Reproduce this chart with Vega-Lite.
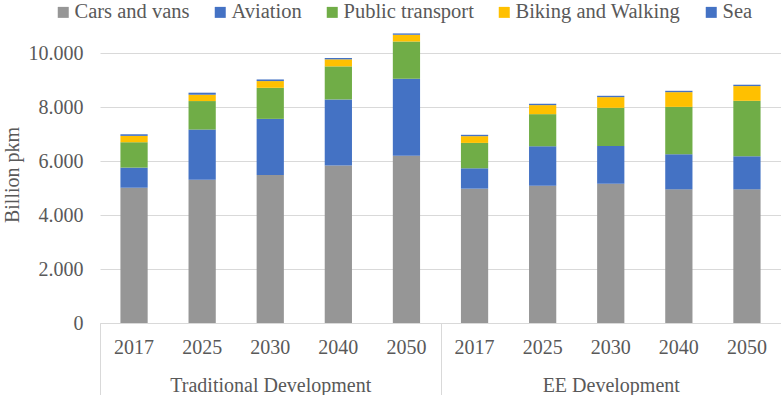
{
  "$schema": "https://vega.github.io/schema/vega-lite/v6.json",
  "width": 681,
  "height": 297,
  "autosize": {"type": "none"},
  "padding": {"left": 100, "top": 26, "right": 0, "bottom": 72},
  "background": "#ffffff",
  "config": {
    "view": {"stroke": null},
    "font": "Liberation Serif, Times New Roman, serif",
    "axis": {"labelFont": "Liberation Serif, Times New Roman, serif", "titleFont": "Liberation Serif, Times New Roman, serif", "labelColor": "#595959", "titleColor": "#595959", "labelFontSize": 20, "titleFontSize": 20, "titleFontWeight": "normal"},
    "legend": {"labelFont": "Liberation Serif, Times New Roman, serif"}
  },
  "data": {
    "values": [
      {"group": "Traditional Development", "key": "T 2017", "mode": "Cars and vans", "value": 5010},
      {"group": "Traditional Development", "key": "T 2017", "mode": "Aviation", "value": 745},
      {"group": "Traditional Development", "key": "T 2017", "mode": "Public transport", "value": 940},
      {"group": "Traditional Development", "key": "T 2017", "mode": "Biking and Walking", "value": 235},
      {"group": "Traditional Development", "key": "T 2017", "mode": "Sea", "value": 60},
      {"group": "Traditional Development", "key": "T 2025", "mode": "Cars and vans", "value": 5310},
      {"group": "Traditional Development", "key": "T 2025", "mode": "Aviation", "value": 1855},
      {"group": "Traditional Development", "key": "T 2025", "mode": "Public transport", "value": 1055},
      {"group": "Traditional Development", "key": "T 2025", "mode": "Biking and Walking", "value": 235},
      {"group": "Traditional Development", "key": "T 2025", "mode": "Sea", "value": 75},
      {"group": "Traditional Development", "key": "T 2030", "mode": "Cars and vans", "value": 5480},
      {"group": "Traditional Development", "key": "T 2030", "mode": "Aviation", "value": 2080},
      {"group": "Traditional Development", "key": "T 2030", "mode": "Public transport", "value": 1150},
      {"group": "Traditional Development", "key": "T 2030", "mode": "Biking and Walking", "value": 250},
      {"group": "Traditional Development", "key": "T 2030", "mode": "Sea", "value": 60},
      {"group": "Traditional Development", "key": "T 2040", "mode": "Cars and vans", "value": 5830},
      {"group": "Traditional Development", "key": "T 2040", "mode": "Aviation", "value": 2450},
      {"group": "Traditional Development", "key": "T 2040", "mode": "Public transport", "value": 1225},
      {"group": "Traditional Development", "key": "T 2040", "mode": "Biking and Walking", "value": 260},
      {"group": "Traditional Development", "key": "T 2040", "mode": "Sea", "value": 50},
      {"group": "Traditional Development", "key": "T 2050", "mode": "Cars and vans", "value": 6190},
      {"group": "Traditional Development", "key": "T 2050", "mode": "Aviation", "value": 2860},
      {"group": "Traditional Development", "key": "T 2050", "mode": "Public transport", "value": 1375},
      {"group": "Traditional Development", "key": "T 2050", "mode": "Biking and Walking", "value": 250},
      {"group": "Traditional Development", "key": "T 2050", "mode": "Sea", "value": 50},
      {"group": "EE Development", "key": "E 2017", "mode": "Cars and vans", "value": 4975},
      {"group": "EE Development", "key": "E 2017", "mode": "Aviation", "value": 755},
      {"group": "EE Development", "key": "E 2017", "mode": "Public transport", "value": 940},
      {"group": "EE Development", "key": "E 2017", "mode": "Biking and Walking", "value": 250},
      {"group": "EE Development", "key": "E 2017", "mode": "Sea", "value": 50},
      {"group": "EE Development", "key": "E 2025", "mode": "Cars and vans", "value": 5085},
      {"group": "EE Development", "key": "E 2025", "mode": "Aviation", "value": 1460},
      {"group": "EE Development", "key": "E 2025", "mode": "Public transport", "value": 1190},
      {"group": "EE Development", "key": "E 2025", "mode": "Biking and Walking", "value": 335},
      {"group": "EE Development", "key": "E 2025", "mode": "Sea", "value": 50},
      {"group": "EE Development", "key": "E 2030", "mode": "Cars and vans", "value": 5160},
      {"group": "EE Development", "key": "E 2030", "mode": "Aviation", "value": 1400},
      {"group": "EE Development", "key": "E 2030", "mode": "Public transport", "value": 1410},
      {"group": "EE Development", "key": "E 2030", "mode": "Biking and Walking", "value": 395},
      {"group": "EE Development", "key": "E 2030", "mode": "Sea", "value": 50},
      {"group": "EE Development", "key": "E 2040", "mode": "Cars and vans", "value": 4950},
      {"group": "EE Development", "key": "E 2040", "mode": "Aviation", "value": 1300},
      {"group": "EE Development", "key": "E 2040", "mode": "Public transport", "value": 1755},
      {"group": "EE Development", "key": "E 2040", "mode": "Biking and Walking", "value": 545},
      {"group": "EE Development", "key": "E 2040", "mode": "Sea", "value": 50},
      {"group": "EE Development", "key": "E 2050", "mode": "Cars and vans", "value": 4950},
      {"group": "EE Development", "key": "E 2050", "mode": "Aviation", "value": 1225},
      {"group": "EE Development", "key": "E 2050", "mode": "Public transport", "value": 2055},
      {"group": "EE Development", "key": "E 2050", "mode": "Biking and Walking", "value": 545},
      {"group": "EE Development", "key": "E 2050", "mode": "Sea", "value": 50}
    ]
  },
  "layer": [
    {
      "transform": [
        {"calculate": "indexof(['Cars and vans', 'Aviation', 'Public transport', 'Biking and Walking', 'Sea'], datum.mode)", "as": "stackOrder"}
      ],
      "mark": {"type": "bar"},
      "encoding": {
        "x": {
          "field": "key",
          "type": "nominal",
          "sort": null,
          "scale": {"paddingInner": 0.6, "paddingOuter": 0.3},
          "axis": {"title": null, "labelAngle": 0, "labelExpr": "slice(datum.label, 2)", "ticks": false, "domainColor": "#d9d9d9", "domainWidth": 1, "labelPadding": 14, "grid": false}
        },
        "y": {
          "field": "value",
          "type": "quantitative",
          "stack": "zero",
          "scale": {"domain": [0, 11000], "nice": false},
          "axis": {"title": "Billion pkm", "values": [0, 2000, 4000, 6000, 8000, 10000], "labelExpr": "replace(format(datum.value, ','), ',', '.')", "domain": false, "ticks": false, "labelPadding": 17, "titlePadding": 6, "gridColor": "#d9d9d9", "gridWidth": 1}
        },
        "order": {"field": "stackOrder", "type": "quantitative", "sort": "ascending"},
        "color": {
          "field": "mode",
          "type": "nominal",
          "sort": ["Cars and vans", "Aviation", "Public transport", "Biking and Walking", "Sea"],
          "scale": {"domain": ["Cars and vans", "Aviation", "Public transport", "Biking and Walking", "Sea"], "range": ["#969696", "#4472C4", "#70AD47", "#FFC000", "#4472C4"]},
          "legend": {"title": null, "orient": "none", "legendX": -47, "legendY": -24, "direction": "horizontal", "columns": 5, "symbolType": "square", "symbolSize": 121, "symbolStrokeWidth": 0, "labelFont": "Liberation Serif, Times New Roman, serif", "labelFontSize": 20.5, "labelColor": "#595959", "labelLimit": 300, "columnPadding": 20, "labelOffset": 1}
        }
      }
    },
    {
      "mark": {"type": "rule", "opacity": 0},
      "encoding": {
        "x": {
          "field": "group",
          "type": "nominal",
          "sort": null,
          "scale": {"paddingInner": 0, "paddingOuter": 0},
          "axis": {"title": null, "orient": "bottom", "labelAngle": 0, "domain": false, "grid": false, "ticks": true, "tickBand": "extent", "tickSize": 72, "tickColor": "#d9d9d9", "tickWidth": 1, "labelPadding": -20, "labelFontSize": 20, "labelLimit": 400, "labelColor": "#595959"}
        }
      }
    }
  ],
  "resolve": {"scale": {"x": "independent"}}
}
